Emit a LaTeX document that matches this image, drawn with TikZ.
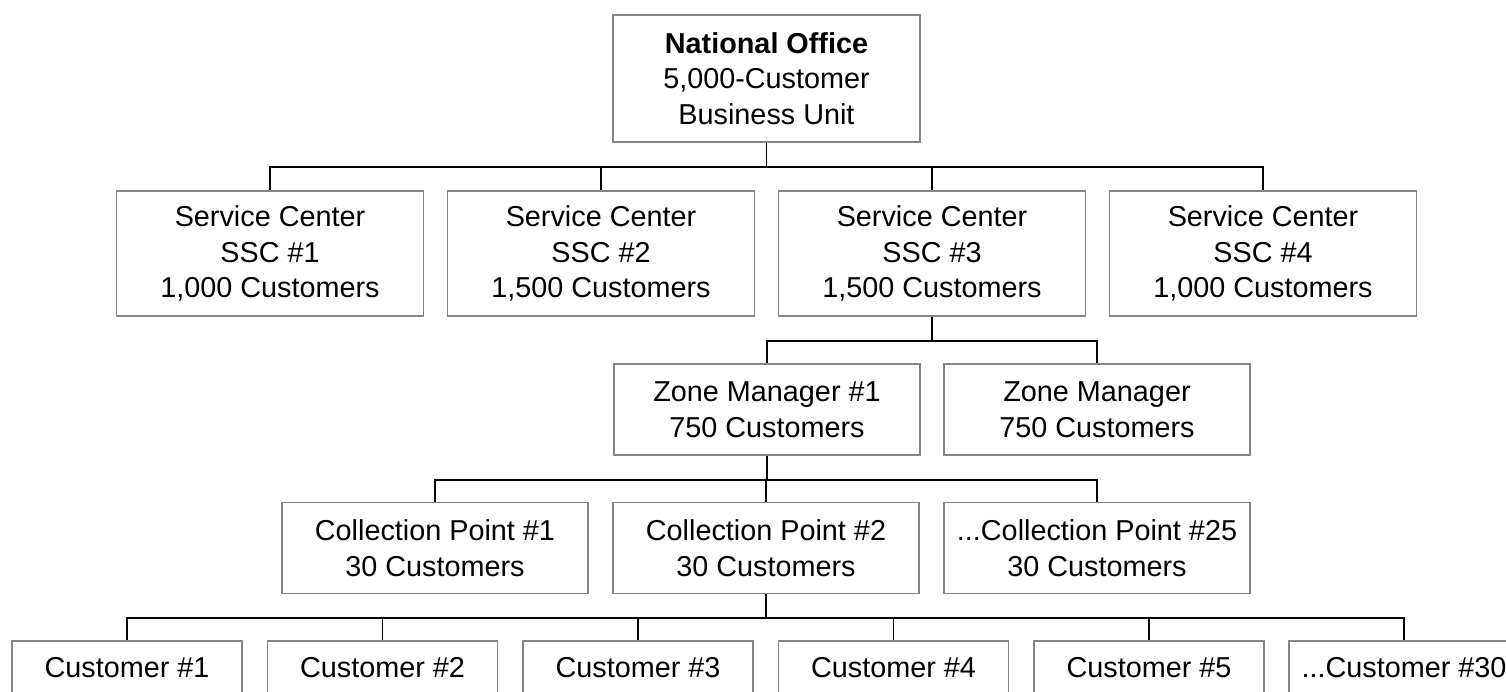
\documentclass[tikz,border=0pt]{standalone}
\usepackage{fontspec}
\setmainfont{Liberation Sans}
\begin{document}
\begin{tikzpicture}[x=0.75pt,y=-0.75pt,
  box/.style={draw=black!48,line width=1.1pt,fill=white,inner sep=0pt,
    align=center,font=\fontsize{21.6}{26.6}\selectfont,text=black},
  big/.style={box,minimum width=230.25pt,minimum height=94pt},
  mid/.style={box,minimum width=229.5pt,minimum height=68pt},
  leaf/.style={box,minimum width=172.5pt,minimum height=40.5pt},
  link/.style={draw=black,line width=1.4pt}]
\useasboundingbox (0,0) rectangle (1506,692);
\clip (0,0) rectangle (1506,692);

% level 1
\node[big,minimum height=95.25pt] (no) at (766.5,78.5) {\textbf{National Office}\\5,000-Customer\\Business Unit};

% level 2: service centers
\node[big] (s1) at (270,253.5) {Service Center\\SSC \#1\\1,000 Customers};
\node[big] (s2) at (601,253.5) {Service Center\\SSC \#2\\1,500 Customers};
\node[big] (s3) at (932,253.5) {Service Center\\SSC \#3\\1,500 Customers};
\node[big] (s4) at (1263,253.5) {Service Center\\SSC \#4\\1,000 Customers};

% level 3: zone managers
\node[mid] (z1) at (767,409.5) {Zone Manager \#1\\750 Customers};
\node[mid] (z2) at (1097,409.5) {Zone Manager\\750 Customers};

% level 4: collection points
\node[mid] (c1) at (435,548) {Collection Point \#1\\30 Customers};
\node[mid] (c2) at (766,548) {Collection Point \#2\\30 Customers};
\node[mid] (c3) at (1097,548) {...Collection Point \#25\\30 Customers};

% level 5: customers
\node[leaf] (u1) at (127,668) {Customer \#1};
\node[leaf] (u2) at (382.5,668) {Customer \#2};
\node[leaf] (u3) at (638,668) {Customer \#3};
\node[leaf] (u4) at (893.5,668) {Customer \#4};
\node[leaf] (u5) at (1149,668) {Customer \#5};
\node[leaf] (u6) at (1404,668) {...Customer \#30};

% elbow connectors
\foreach \c in {s1,s2,s3,s4}
  \draw[link] (no.south) -- ++(0,24) -| (\c.north);
\foreach \c in {z1,z2}
  \draw[link] (s3.south) -- ++(0,24) -| (\c.north);
\foreach \c in {c1,c2,c3}
  \draw[link] (z1.south) -- ++(0,24) -| (\c.north);
\foreach \c in {u1,u2,u3,u4,u5,u6}
  \draw[link] (c2.south) -- ++(0,24) -| (\c.north);
\end{tikzpicture}
\end{document}
